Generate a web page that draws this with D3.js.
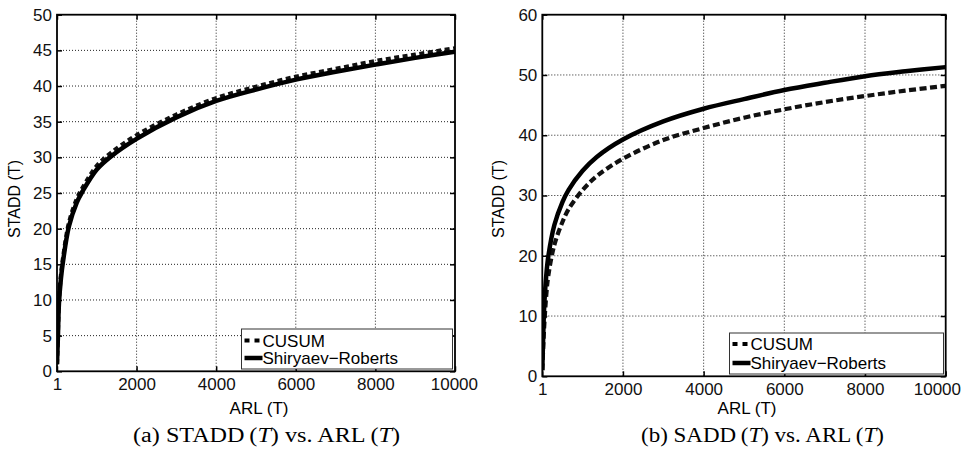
<!DOCTYPE html>
<html>
<head>
<meta charset="utf-8">
<script src="https://cdn.jsdelivr.net/npm/d3@7/dist/d3.min.js"></script>
<style>
  html, body { margin: 0; padding: 0; background: #fff; }
  svg { display: block; }
  .tick text { font-family: "Liberation Sans", Arial, sans-serif; font-size: 17px; fill: #111; }
</style>
</head>
<body>
<svg id="chart" width="964" height="449"></svg>
<script>
// ---------------- data ----------------
const arlValues = [1, 25, 50, 100, 150, 300, 500, 650, 1000, 1350, 2000, 3000, 4000, 5000, 6000, 7000, 8000, 9000, 10000];

// panel (a): STADD(T) vs ARL(T)
const stadd_cusum = [1.0, 5.5, 10.0, 13.5, 15.8, 20.8, 24.2, 25.8, 28.8, 30.6, 33.1, 36.0, 38.3, 39.9, 41.3, 42.4, 43.5, 44.4, 45.3];
const stadd_sr    = [1.0, 5.0, 9.5, 13.0, 15.3, 20.3, 23.7, 25.3, 28.3, 30.1, 32.6, 35.6, 37.9, 39.5, 40.9, 42.0, 43.0, 43.95, 44.8];

// panel (b): SADD(T) vs ARL(T)
const sadd_cusum = [1.0, 5.0, 8.5, 13.5, 16.7, 21.8, 25.6, 27.7, 30.9, 33.2, 36.1, 39.2, 41.2, 42.9, 44.3, 45.5, 46.5, 47.4, 48.2];
const sadd_sr    = [1.0, 7.0, 11.8, 16.8, 19.9, 25.1, 28.9, 30.9, 34.1, 36.4, 39.3, 42.3, 44.4, 46.0, 47.5, 48.7, 49.8, 50.6, 51.3];

const xTicks = [1, 2000, 4000, 6000, 8000, 10000];
const yTicksA = [0, 5, 10, 15, 20, 25, 30, 35, 40, 45, 50];
const yTicksB = [0, 10, 20, 30, 40, 50, 60];
const seriesNames = ["CUSUM", "Shiryaev\u2212Roberts"];
const xLabel = "ARL (T)";
const yLabel = "STADD (T)";

// ---------------- drawing ----------------
const svg = d3.select("#chart");
const sans = "'Liberation Sans', Arial, sans-serif";

function drawPanel(cfg) {
  const x = d3.scaleLinear().domain([1, 10000]).range([cfg.left, cfg.right]);
  const y = d3.scaleLinear().domain([0, cfg.yMax]).range([cfg.bottom, cfg.top]);
  const g = svg.append("g");

  // grid
  g.append("g").selectAll("line").data(xTicks.slice(1, -1)).join("line")
    .attr("x1", d => x(d)).attr("x2", d => x(d))
    .attr("y1", cfg.top).attr("y2", cfg.bottom)
    .attr("stroke", "#222").attr("stroke-width", 1).attr("stroke-dasharray", "1,2");
  g.append("g").selectAll("line").data(cfg.yTicks.slice(1, -1)).join("line")
    .attr("y1", d => y(d)).attr("y2", d => y(d))
    .attr("x1", cfg.left).attr("x2", cfg.right)
    .attr("stroke", "#222").attr("stroke-width", 1).attr("stroke-dasharray", "1,2");

  // axes with inward ticks
  const xb = g.append("g").attr("transform", `translate(0,${cfg.bottom})`)
    .call(d3.axisBottom(x).tickValues(xTicks).tickFormat(d3.format("d")).tickSize(-5).tickSizeOuter(0).tickPadding(7));
  const xt = g.append("g").attr("transform", `translate(0,${cfg.top})`)
    .call(d3.axisTop(x).tickValues(xTicks).tickFormat("").tickSize(-5).tickSizeOuter(0));
  const yl = g.append("g").attr("transform", `translate(${cfg.left},0)`)
    .call(d3.axisLeft(y).tickValues(cfg.yTicks).tickSize(-5).tickSizeOuter(0).tickPadding(5));
  const yr = g.append("g").attr("transform", `translate(${cfg.right},0)`)
    .call(d3.axisRight(y).tickValues(cfg.yTicks).tickFormat("").tickSize(-5).tickSizeOuter(0));
  [xb, xt, yl, yr].forEach(a => {
    a.select(".domain").remove();
    a.selectAll(".tick line").attr("stroke", "#000").attr("stroke-width", 1.5);
  });
  // keep the last x label inside the picture
  xb.selectAll(".tick text").each(function () {
    const bb = this.getBBox();
    const tr = this.parentNode.transform.baseVal.consolidate().matrix.e;
    const rightEdge = tr + bb.x + bb.width;
    if (rightEdge > cfg.maxRight) d3.select(this).attr("x", cfg.maxRight - rightEdge);
  });

  // clip
  const clipId = "clip" + cfg.id;
  svg.append("clipPath").attr("id", clipId).append("rect")
    .attr("x", cfg.left).attr("y", cfg.top)
    .attr("width", cfg.right - cfg.left).attr("height", cfg.bottom - cfg.top);

  const line = d3.line().x((d, i) => x(arlValues[i])).y(d => y(d)).curve(d3.curveCatmullRom.alpha(0.5));
  const lines = g.append("g").attr("clip-path", `url(#${clipId})`);
  lines.append("path").datum(cfg.cusum).attr("d", line)
    .attr("fill", "none").attr("stroke", "#111").attr("stroke-width", 4.2)
    .attr("stroke-dasharray", cfg.dash);
  lines.append("path").datum(cfg.sr).attr("d", line)
    .attr("fill", "none").attr("stroke", "#000").attr("stroke-width", 4.5);

  // frame
  g.append("rect").attr("x", cfg.left).attr("y", cfg.top)
    .attr("width", cfg.right - cfg.left).attr("height", cfg.bottom - cfg.top)
    .attr("fill", "none").attr("stroke", "#000").attr("stroke-width", 1.8);

  // legend
  const lg = g.append("g");
  lg.append("rect").attr("x", cfg.leg.x).attr("y", cfg.leg.y)
    .attr("width", cfg.leg.w).attr("height", cfg.leg.h)
    .attr("fill", "#fff").attr("stroke", "#333").attr("stroke-width", 1);
  const rows = [cfg.leg.y + cfg.leg.r1, cfg.leg.y + cfg.leg.r2];
  seriesNames.forEach((name, i) => {
    lg.append("line")
      .attr("x1", cfg.leg.x + 3).attr("x2", cfg.leg.x + 21)
      .attr("y1", rows[i]).attr("y2", rows[i])
      .attr("stroke", "#000").attr("stroke-width", i === 0 ? 4 : 4.5)
      .attr("stroke-dasharray", i === 0 ? "5,5" : null);
    lg.append("text").attr("x", cfg.leg.x + 21).attr("y", rows[i])
      .attr("dy", "0.36em")
      .style("font-family", sans)
      .style("font-size", "17px").attr("fill", "#000").text(name);
  });

  // axis labels
  g.append("text").attr("x", (cfg.left + cfg.right) / 2 + 3).attr("y", 414)
    .attr("text-anchor", "middle")
    .style("font-family", sans).style("font-size", "17px")
    .text(xLabel);
  g.append("text")
    .attr("transform", `translate(${cfg.yLabelX},199) rotate(-90)`)
    .attr("text-anchor", "middle")
    .style("font-family", sans).style("font-size", "16px")
    .text(yLabel);

  // caption
  const cap = g.append("text").attr("x", cfg.capX).attr("y", 442)
    .style("font-family", "'Liberation Serif', 'Times New Roman', serif").style("font-size", "20px")
    .attr("textLength", cfg.capW).attr("lengthAdjust", "spacingAndGlyphs");
  cap.append("tspan").text(cfg.capLetter + " " + cfg.capMeasure + "\u2009(");
  cap.append("tspan").style("font-style", "italic").text("T");
  cap.append("tspan").text(") vs.  ARL\u2009(");
  cap.append("tspan").style("font-style", "italic").text("T");
  cap.append("tspan").text(")");
}

drawPanel({
  id: "a", left: 57, right: 455, top: 14.7, bottom: 371.3, yMax: 50, yTicks: yTicksA,
  cusum: stadd_cusum, sr: stadd_sr, dash: "5,3.5", maxRight: 478,
  leg: { x: 241.5, y: 329, w: 211, h: 40, r1: 11.5, r2: 29 },
  yLabelX: 20, capX: 133, capW: 267, capLetter: "(a)", capMeasure: "STADD"
});
drawPanel({
  id: "b", left: 542.3, right: 945.7, top: 14.7, bottom: 376.3, yMax: 60, yTicks: yTicksB,
  cusum: sadd_cusum, sr: sadd_sr, dash: "7,3.5", maxRight: 961,
  leg: { x: 729.5, y: 333, w: 214, h: 41, r1: 11, r2: 30 },
  yLabelX: 504, capX: 641, capW: 243, capLetter: "(b)", capMeasure: "SADD"
});
</script>
</body>
</html>
